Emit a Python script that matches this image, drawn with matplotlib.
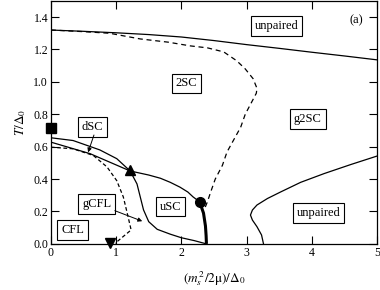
import numpy as np
import matplotlib
matplotlib.use('Agg')
import matplotlib.pyplot as plt

plt.rcParams['font.family'] = ['Liberation Serif', 'DejaVu Serif']
plt.rcParams['mathtext.fontset'] = 'stix'

# phase boundaries
top_x = [0, 0.5, 1.0, 1.5, 2.0, 2.5, 3.0, 3.5, 4.0, 4.5, 5.0]
top_y = [1.32, 1.312, 1.303, 1.292, 1.277, 1.255, 1.23, 1.207, 1.183, 1.16, 1.136]

twosc_x = [0, 0.5, 0.9, 1.37, 1.8, 2.14, 2.4, 2.65, 2.85, 2.98, 3.1, 3.16, 3.15, 3.09, 2.98, 2.91, 2.80, 2.70, 2.63, 2.52, 2.45, 2.40, 2.36]
twosc_y = [1.32, 1.31, 1.30, 1.265, 1.245, 1.222, 1.21, 1.185, 1.13, 1.08, 1.02, 0.96, 0.93, 0.884, 0.80, 0.72, 0.64, 0.567, 0.485, 0.40, 0.32, 0.26, 0.22]

dsc_x = [0, 0.34, 0.75, 1.01, 1.215, 1.32, 1.37, 1.42, 1.50, 1.63, 1.83, 2.0, 2.2, 2.385]
dsc_y = [0.655, 0.638, 0.58, 0.526, 0.45, 0.37, 0.29, 0.21, 0.137, 0.09, 0.06, 0.038, 0.02, 0.0]

usc_x = [0, 0.6, 1.215, 1.5, 1.68, 1.83, 1.98, 2.1, 2.18, 2.28]
usc_y = [0.628, 0.557, 0.45, 0.425, 0.405, 0.38, 0.35, 0.32, 0.29, 0.26]

thick_x = [2.28, 2.34, 2.37, 2.38, 2.385]
thick_y = [0.26, 0.19, 0.11, 0.05, 0.0]

cfl_x = [0, 0.34, 0.65, 0.86, 1.01, 1.11, 1.17, 1.23, 0.985]
cfl_y = [0.597, 0.587, 0.546, 0.475, 0.39, 0.29, 0.19, 0.086, 0.004]

g2_x = [3.26, 3.23, 3.16, 3.09, 3.06, 3.09, 3.16, 3.32, 3.52, 3.83, 4.19, 4.6, 5.0]
g2_y = [0.0, 0.055, 0.106, 0.147, 0.178, 0.209, 0.24, 0.28, 0.32, 0.38, 0.434, 0.49, 0.542]

# special points
sq_pt = (0.0, 0.715)
up_pt = (1.215, 0.454)
dot_pt = (2.28, 0.26)
down_pt = (0.91, 0.006)

labels = ['unpaired', '2SC', 'g2SC', 'dSC', 'gCFL', 'CFL', 'uSC', 'unpaired']
label_x = [3.46, 2.08, 3.94, 0.64, 0.70, 0.33, 1.83, 4.10]
label_y = [1.345, 0.99, 0.77, 0.72, 0.245, 0.087, 0.23, 0.19]

fig = plt.figure(figsize=(3.8, 2.9), dpi=100)
ax = fig.add_axes([0.134, 0.159, 0.858, 0.838])

lw = 0.9
ax.plot(top_x, top_y, 'k-', lw=lw)
ax.plot(twosc_x, twosc_y, 'k--', lw=lw, dashes=(4, 3))
ax.plot(dsc_x, dsc_y, 'k-', lw=lw)
ax.plot(usc_x, usc_y, 'k-', lw=lw)
ax.plot(thick_x, thick_y, 'k-', lw=2.2, solid_capstyle='butt')
ax.plot(cfl_x, cfl_y, 'k--', lw=lw, dashes=(3, 2))
ax.plot(g2_x, g2_y, 'k-', lw=lw)

ax.plot(*sq_pt, 's', color='k', ms=6.5, clip_on=False, zorder=5)
ax.plot(*up_pt, '^', color='k', ms=7, clip_on=False, zorder=5)
ax.plot(*dot_pt, 'o', color='k', ms=7, clip_on=False, zorder=5)
ax.plot(*down_pt, 'v', color='k', ms=7.5, clip_on=False, zorder=5)

for t, x, y in zip(labels, label_x, label_y):
    ax.text(x, y, t, fontsize=9, ha='center', va='center',
            bbox=dict(boxstyle='square,pad=0.3', fc='white', ec='k', lw=0.8))

ax.text(4.68, 1.38, '(a)', fontsize=9, ha='center', va='center')

arr = dict(arrowstyle='-|>', color='k', lw=0.7, mutation_scale=6, shrinkA=0, shrinkB=0)
ax.annotate('', xy=(0.57, 0.565), xytext=(0.66, 0.672), arrowprops=arr)
ax.annotate('', xy=(1.40, 0.14), xytext=(0.98, 0.205), arrowprops=arr)

ax.set_xlim(0, 5)
ax.set_ylim(0, 1.5)
ax.set_xticks([0, 1, 2, 3, 4, 5])
ax.set_yticks(np.arange(0, 1.41, 0.2))
ax.set_yticklabels(['0.0', '0.2', '0.4', '0.6', '0.8', '1.0', '1.2', '1.4'])
ax.tick_params(direction='in', top=True, right=True, length=5.5, width=0.8, labelsize=8.5, pad=2)
for s in ax.spines.values():
    s.set_linewidth(0.9)

ax.set_xlabel(r'$(m_s^{\,2}/2\mathrm{\mu})/\Delta_0$', fontsize=9.5, labelpad=8)
ax.set_ylabel(r'$T/\Delta_0$', fontsize=9.5, labelpad=4)

plt.savefig('out.png', dpi=100)
